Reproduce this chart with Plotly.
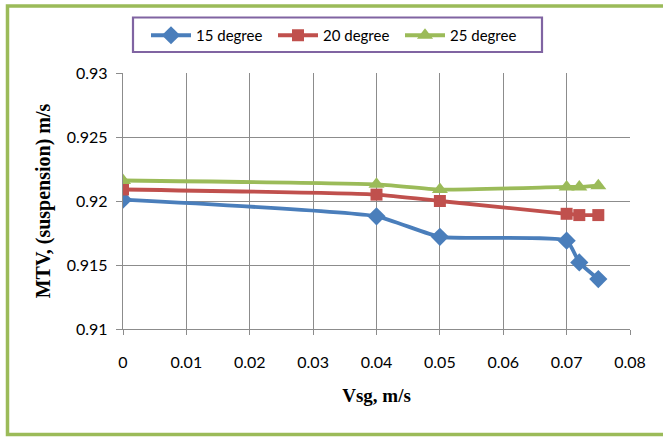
import plotly.graph_objects as go

vsg = [0, 0.04, 0.05, 0.07, 0.072, 0.075]
mtv_15 = [0.9201, 0.9188, 0.9172, 0.9169, 0.9152, 0.9139]
mtv_20 = [0.9209, 0.9205, 0.9200, 0.9190, 0.9189, 0.9189]
mtv_25 = [0.9216, 0.9213, 0.9209, 0.9211, 0.9211, 0.9212]

series = [
    ("15 degree", mtv_15, "#4A7EBB", "diamond", 14),
    ("20 degree", mtv_20, "#C0504D", "square", 12),
    ("25 degree", mtv_25, "#9BBB59", "triangle-up", 14),
]

fig = go.Figure()
for name, ys, col, sym, sz in series:
    fig.add_trace(go.Scatter(
        x=vsg, y=ys, name=name, mode="lines+markers",
        line=dict(color=col, width=3.8, shape="spline", smoothing=0.45),
        marker=dict(symbol=sym, size=sz, color=col, line=dict(width=0)),
    ))

W, H = 663, 437
L, R, T, B = 123, 33, 73, 108
pw, ph = W - L - R, H - T - B

def px(x):
    return (x - L) / pw

def py(y):
    return (H - B - y) / ph

fig.update_layout(
    width=W, height=H,
    margin=dict(l=L, r=R, t=T, b=B),
    paper_bgcolor="white", plot_bgcolor="white",
    font=dict(family="Lato, sans-serif", size=16, color="#000000"),
    showlegend=True,
    legend=dict(
        orientation="h", x=px(146), y=py(19), xanchor="left", yanchor="top",
        borderwidth=0, bgcolor="rgba(0,0,0,0)",
        font=dict(family="Lato, sans-serif", size=15),
        entrywidth=72, itemwidth=40, tracegroupgap=0,
    ),
    xaxis=dict(
        range=[0, 0.08], tickmode="linear", tick0=0, dtick=0.01, tickangle=0,
        showgrid=True, gridcolor="#8C8C8C", gridwidth=1.3,
        showline=True, linecolor="#8C8C8C", linewidth=1.3, mirror=False,
        ticks="outside", ticklen=5, tickcolor="#8C8C8C",
        ticklabelstandoff=14, zeroline=False, automargin=False,
        title=dict(text="<b>Vsg, m/s</b>", font=dict(family="Liberation Serif, serif", size=19), standoff=18),
    ),
    yaxis=dict(
        range=[0.91, 0.93], tickmode="linear", tick0=0.91, dtick=0.005,
        showgrid=True, gridcolor="#8C8C8C", gridwidth=1.3,
        showline=True, linecolor="#8C8C8C", linewidth=1.3,
        ticks="outside", ticklen=6, tickcolor="#8C8C8C",
        ticklabelstandoff=5, zeroline=False, automargin=False,
        title=dict(text="<b>MTV, (suspension) m/s</b>", font=dict(family="Liberation Serif, serif", size=20), standoff=10),
    ),
    shapes=[
        dict(
            type="rect", xref="paper", yref="paper",
            x0=px(7.5), x1=px(672), y0=py(434.5), y1=py(6),
            line=dict(color="#9BBB59", width=3.5), fillcolor="rgba(0,0,0,0)", layer="above",
        ),
        dict(
            type="rect", xref="paper", yref="paper",
            x0=px(133), x1=px(542), y0=py(52), y1=py(17.5),
            line=dict(color="#8064A2", width=2.2), fillcolor="rgba(0,0,0,0)", layer="above",
        ),
    ],
)

fig.write_html(
    "out.html",
    config={"displayModeBar": False},
    post_script="document.body.style.margin='0';",
)
